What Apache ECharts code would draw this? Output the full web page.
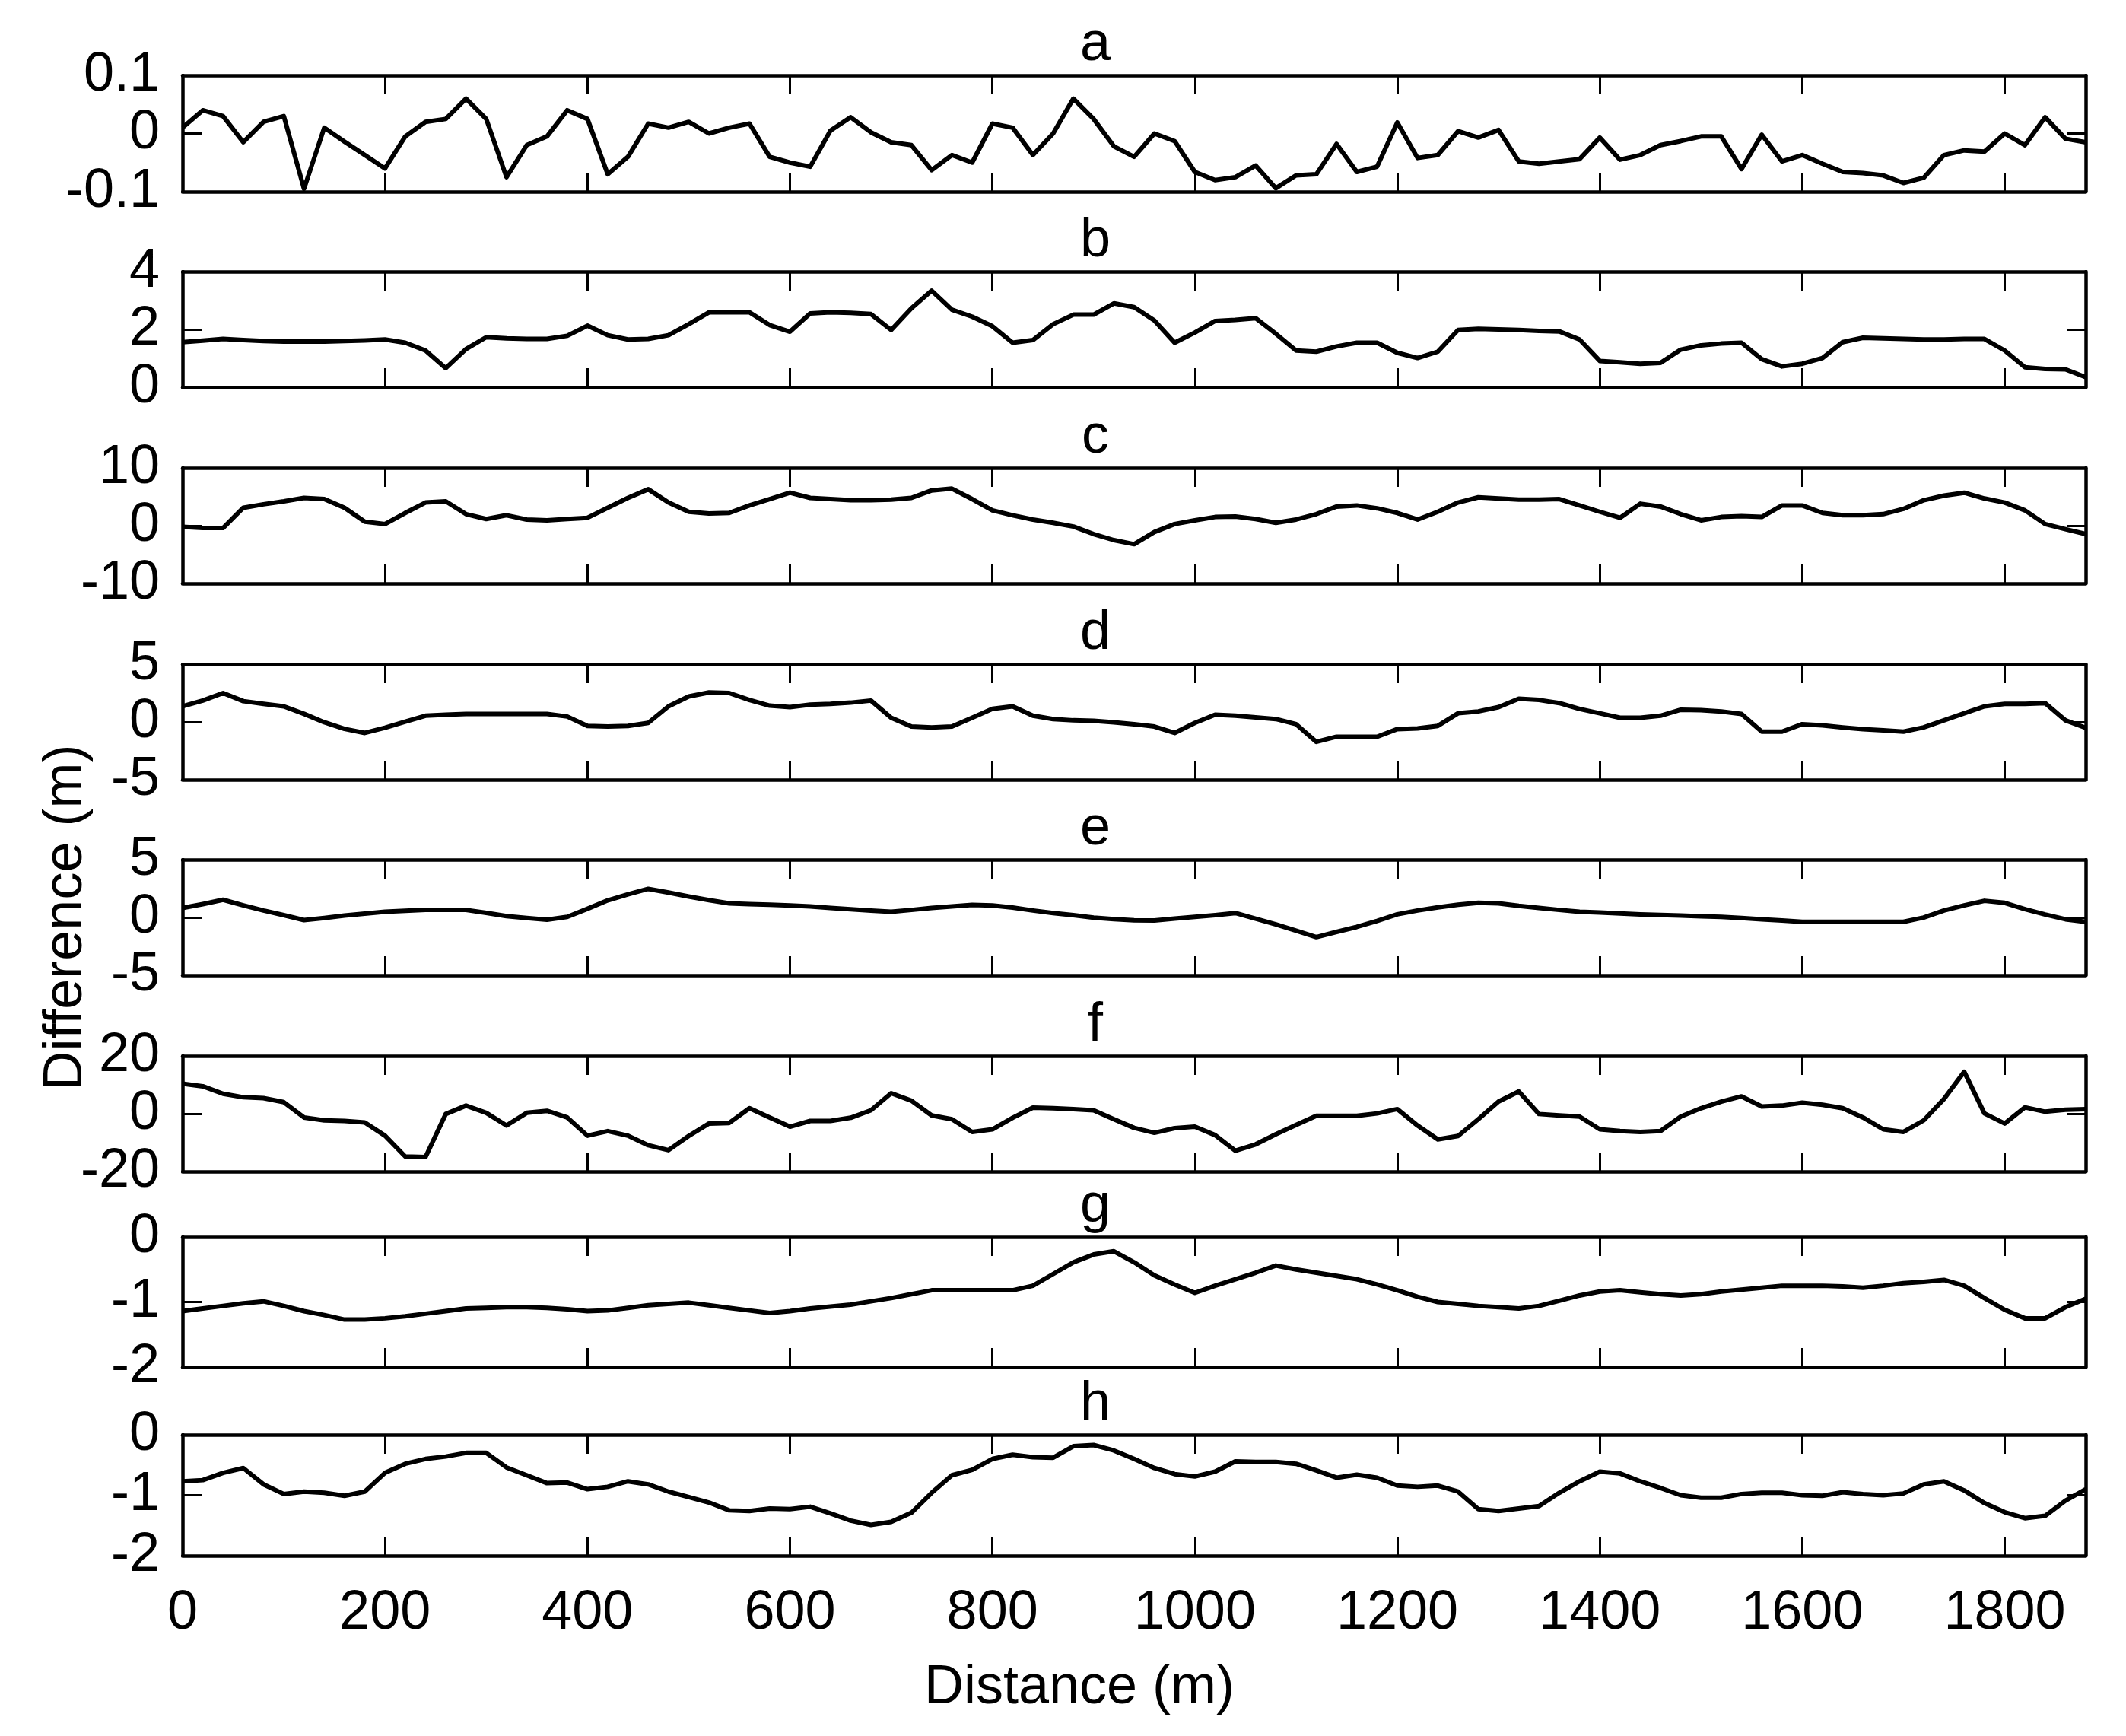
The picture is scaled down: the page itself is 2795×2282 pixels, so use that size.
<!DOCTYPE html>
<html><head><meta charset="utf-8">
<script src="https://cdn.jsdelivr.net/npm/echarts@6/dist/echarts.min.js"></script>
<style>html,body{margin:0;padding:0;background:#fff}#c{width:2795px;height:2282px}</style>
</head><body><div id="c"></div>
<script>
// ---------- DATA ----------
const distance = [
  0,20,40,60,80,100,120,140,160,180,
  200,220,240,260,280,300,320,340,360,380,
  400,420,440,460,480,500,520,540,560,580,
  600,620,640,660,680,700,720,740,760,780,
  800,820,840,860,880,900,920,940,960,980,
  1000,1020,1040,1060,1080,1100,1120,1140,1160,1180,
  1200,1220,1240,1260,1280,1300,1320,1340,1360,1380,
  1400,1420,1440,1460,1480,1500,1520,1540,1560,1580,
  1600,1620,1640,1660,1680,1700,1720,1740,1760,1780,
  1800,1820,1840,1860,1880];

const panelTitles = ['a','b','c','d','e','f','g','h'];

const diffA = [
  0.01,0.04,0.03,-0.015,0.02,0.03,-0.095,0.01,-0.014,-0.037,
  -0.06,-0.005,0.02,0.025,0.06,0.025,-0.075,-0.02,-0.005,0.04,
  0.025,-0.07,-0.04,0.017,0.01,0.02,0,0.01,0.017,-0.04,
  -0.05,-0.057,0.005,0.028,0.002,-0.015,-0.02,-0.063,-0.037,-0.05,
  0.017,0.01,-0.037,0,0.06,0.025,-0.022,-0.04,0,-0.013,
  -0.066,-0.08,-0.075,-0.055,-0.094,-0.072,-0.07,-0.018,-0.066,-0.057,
  0.019,-0.042,-0.037,0.004,-0.007,0.006,-0.048,-0.052,-0.048,-0.044,
  -0.007,-0.045,-0.037,-0.02,-0.013,-0.005,-0.005,-0.061,-0.002,-0.048,
  -0.037,-0.052,-0.066,-0.068,-0.072,-0.085,-0.076,-0.037,-0.029,-0.031,
  0,-0.02,0.028,-0.009,-0.015];

const diffB = [
  1.56,1.61,1.67,1.63,1.6,1.58,1.58,1.58,1.6,1.62,
  1.65,1.54,1.27,0.66,1.32,1.73,1.69,1.67,1.67,1.78,
  2.13,1.8,1.65,1.67,1.8,2.18,2.59,2.59,2.59,2.15,
  1.92,2.55,2.59,2.57,2.53,1.98,2.73,3.34,2.68,2.44,
  2.11,1.54,1.63,2.18,2.51,2.51,2.9,2.77,2.31,1.54,
  1.89,2.29,2.33,2.39,1.85,1.27,1.23,1.41,1.54,1.54,
  1.19,1.01,1.23,1.98,2.02,2.0,1.98,1.95,1.93,1.65,
  0.91,0.86,0.81,0.84,1.3,1.45,1.51,1.54,0.97,0.72,
  0.81,1.01,1.56,1.71,1.69,1.67,1.65,1.65,1.67,1.67,
  1.27,0.69,0.63,0.62,0.35];

const diffC = [
  -0.2,-0.4,-0.4,3.1,3.7,4.2,4.8,4.6,3.1,0.7,
  0.28,2.2,4.0,4.2,2.0,1.15,1.8,1.06,0.93,1.15,
  1.36,3.1,4.8,6.3,4.0,2.4,2.1,2.2,3.5,4.6,
  5.7,4.8,4.6,4.4,4.4,4.5,4.8,6.1,6.4,4.6,
  2.65,1.8,1.06,0.5,-0.15,-1.45,-2.5,-3.2,-1.1,0.28,
  0.93,1.5,1.58,1.15,0.5,1.06,2.0,3.3,3.5,3.0,
  2.2,1.06,2.4,4.0,4.9,4.7,4.5,4.5,4.6,3.5,
  2.4,1.36,3.8,3.3,2.0,0.93,1.5,1.66,1.5,3.5,
  3.5,2.2,1.8,1.8,2.0,2.9,4.4,5.2,5.7,4.7,
  4.0,2.65,0.28,-0.6,-1.45];

const diffD = [
  1.35,1.85,2.5,1.8,1.56,1.35,0.7,-0.03,-0.6,-0.95,
  -0.5,0.03,0.54,0.62,0.69,0.69,0.69,0.69,0.69,0.47,
  -0.34,-0.4,-0.34,-0.08,1.35,2.2,2.55,2.5,1.9,1.41,
  1.28,1.5,1.56,1.67,1.85,0.36,-0.4,-0.47,-0.4,0.36,
  1.13,1.35,0.54,0.25,0.14,0.1,-0.03,-0.19,-0.4,-0.95,
  -0.08,0.62,0.54,0.4,0.25,-0.19,-1.72,-1.28,-1.28,-1.28,
  -0.62,-0.56,-0.34,0.75,0.91,1.28,2.0,1.9,1.63,1.13,
  0.75,0.36,0.36,0.54,1.06,1.02,0.91,0.69,-0.84,-0.84,
  -0.19,-0.3,-0.47,-0.62,-0.73,-0.84,-0.47,0.14,0.75,1.35,
  1.56,1.56,1.63,0.14,-0.51];

const diffE = [
  0.82,1.15,1.53,1.05,0.6,0.2,-0.23,-0.05,0.16,0.33,
  0.49,0.57,0.65,0.65,0.65,0.4,0.12,-0.05,-0.2,0.05,
  0.75,1.48,2.0,2.47,2.15,1.81,1.5,1.22,1.15,1.1,
  1.04,0.95,0.82,0.7,0.6,0.49,0.65,0.82,0.95,1.09,
  1.04,0.85,0.6,0.38,0.2,-0.01,-0.15,-0.25,-0.27,-0.1,
  0.05,0.2,0.38,-0.1,-0.6,-1.15,-1.7,-1.25,-0.82,-0.3,
  0.27,0.6,0.87,1.1,1.26,1.22,1.0,0.82,0.65,0.49,
  0.43,0.35,0.27,0.22,0.16,0.1,0.05,-0.05,-0.16,-0.27,
  -0.38,-0.38,-0.38,-0.38,-0.38,-0.38,-0.01,0.6,1.04,1.44,
  1.26,0.71,0.25,-0.16,-0.38];

const diffF = [
  10.4,9.5,6.9,5.7,5.4,4.0,-1.3,-2.3,-2.5,-3.0,
  -7.6,-14.8,-15.0,-0.1,2.8,0.3,-4.1,0.3,1.0,-1.3,
  -7.6,-6.0,-7.6,-10.9,-12.6,-7.7,-3.4,-3.2,1.9,-1.3,
  -4.5,-2.5,-2.5,-1.4,1.2,7.1,4.5,-0.6,-1.9,-6.3,
  -5.4,-1.4,2.1,1.9,1.6,1.2,-1.9,-4.9,-6.6,-5.0,
  -4.5,-7.4,-12.8,-10.6,-7.1,-3.9,-0.7,-0.7,-0.7,0.1,
  1.6,-4.1,-8.9,-7.7,-1.9,4.2,7.7,-0.1,-0.6,-1.0,
  -5.4,-6.0,-6.3,-6.0,-1.0,1.9,4.2,6.0,2.5,2.8,
  3.8,3.1,1.9,-1.3,-5.4,-6.3,-2.3,5.1,14.5,0.1,
  -3.4,2.2,0.7,1.4,1.6];

const diffG = [
  -1.14,-1.1,-1.06,-1.02,-0.99,-1.06,-1.14,-1.2,-1.27,-1.27,
  -1.25,-1.22,-1.18,-1.14,-1.1,-1.09,-1.08,-1.08,-1.09,-1.11,
  -1.14,-1.13,-1.09,-1.05,-1.03,-1.01,-1.05,-1.09,-1.13,-1.17,
  -1.14,-1.1,-1.07,-1.04,-0.99,-0.94,-0.88,-0.82,-0.82,-0.82,
  -0.82,-0.82,-0.75,-0.57,-0.39,-0.27,-0.22,-0.39,-0.59,-0.73,
  -0.86,-0.75,-0.65,-0.55,-0.44,-0.5,-0.55,-0.6,-0.65,-0.73,
  -0.82,-0.92,-1.0,-1.03,-1.06,-1.08,-1.1,-1.06,-0.98,-0.9,
  -0.84,-0.82,-0.85,-0.88,-0.9,-0.88,-0.84,-0.81,-0.78,-0.75,
  -0.75,-0.75,-0.76,-0.78,-0.75,-0.71,-0.69,-0.66,-0.75,-0.94,
  -1.12,-1.25,-1.25,-1.08,-0.95];

const diffH = [
  -0.77,-0.75,-0.63,-0.55,-0.82,-0.98,-0.94,-0.96,-1.01,-0.94,
  -0.63,-0.48,-0.4,-0.36,-0.3,-0.3,-0.54,-0.67,-0.8,-0.79,
  -0.9,-0.86,-0.77,-0.82,-0.94,-1.03,-1.12,-1.25,-1.26,-1.22,
  -1.23,-1.19,-1.3,-1.42,-1.49,-1.44,-1.29,-0.96,-0.67,-0.58,
  -0.4,-0.33,-0.37,-0.38,-0.19,-0.17,-0.26,-0.4,-0.55,-0.65,
  -0.69,-0.61,-0.44,-0.45,-0.45,-0.48,-0.59,-0.71,-0.66,-0.71,
  -0.84,-0.86,-0.84,-0.94,-1.23,-1.26,-1.22,-1.18,-0.96,-0.77,
  -0.61,-0.64,-0.77,-0.88,-1.0,-1.04,-1.04,-0.98,-0.96,-0.96,
  -1.0,-1.01,-0.95,-0.98,-1.0,-0.97,-0.82,-0.77,-0.92,-1.13,
  -1.28,-1.38,-1.34,-1.09,-0.9];

const yMin  = [-0.1, 0, -10, -5, -5, -20, -2, -2];
const yMax  = [0.1, 4, 10, 5, 5, 20, 0, 0];
const yStep = [0.1, 2, 10, 5, 5, 20, 1, 1];
const xMin = 0, xMax = 1880, xStep = 200;
const xAxisTitle = 'Distance (m)';
const yAxisTitle = 'Difference (m)';

// ---------- LAYOUT ----------
const panels = [diffA, diffB, diffC, diffD, diffE, diffF, diffG, diffH];
const gridTops    = [99, 357, 615, 873, 1130, 1388, 1626, 1886];
const gridHeights = [153, 152, 152, 152, 152, 152, 171, 159];
const gridLeft = 240, gridWidth = 2502;
const FONT = '"Liberation Sans", Arial, Helvetica, sans-serif';
const FS = 72;
const INK = '#000';

const grid = [], xAxis = [], yAxis = [], series = [], graphic = [];
panels.forEach((vals, i) => {
  grid.push({left: gridLeft, top: gridTops[i], width: gridWidth, height: gridHeights[i], containLabel: false});
  const isLast = i === panels.length - 1;
  const tickCommon = {show: true, inside: true, length: 25, lineStyle: {color: INK, width: 3}};
  const lineCommon = {show: true, onZero: false, lineStyle: {color: INK, width: 4.5}};
  xAxis.push({
    type: 'value', gridIndex: i, position: 'bottom', min: xMin, max: xMax, interval: xStep,
    axisLine: lineCommon, axisTick: tickCommon, splitLine: {show: false},
    axisLabel: {
      show: isLast, color: INK, fontSize: FS, fontFamily: FONT, margin: 40,
      formatter: v => (v % xStep === 0 ? String(v) : '')
    }
  });
  xAxis.push({
    type: 'value', gridIndex: i, position: 'top', min: xMin, max: xMax, interval: xStep,
    axisLine: lineCommon, axisTick: tickCommon, splitLine: {show: false}, axisLabel: {show: false}
  });
  yAxis.push({
    type: 'value', gridIndex: i, position: 'left', min: yMin[i], max: yMax[i], interval: yStep[i],
    axisLine: lineCommon, axisTick: tickCommon, splitLine: {show: false},
    axisLabel: {show: true, color: INK, fontSize: FS, fontFamily: FONT, margin: 30}
  });
  yAxis.push({
    type: 'value', gridIndex: i, position: 'right', min: yMin[i], max: yMax[i], interval: yStep[i],
    axisLine: lineCommon, axisTick: tickCommon, splitLine: {show: false}, axisLabel: {show: false}
  });
  series.push({
    type: 'line', name: panelTitles[i], xAxisIndex: 2 * i, yAxisIndex: 2 * i,
    data: distance.map((d, k) => [d, vals[k]]),
    showSymbol: false, symbol: 'none', clip: false,
    lineStyle: {color: INK, width: 6, join: 'round'}, z: 3
  });
  graphic.push({
    type: 'text', x: 1440, y: gridTops[i] - 40,
    style: {text: panelTitles[i], fill: INK, font: FS + 'px ' + FONT, textAlign: 'center', textVerticalAlign: 'middle'}
  });
});

graphic.push({
  type: 'text', x: 1419, y: 2219,
  style: {text: xAxisTitle, fill: INK, font: FS + 'px ' + FONT, textAlign: 'center', textVerticalAlign: 'middle'}
});
graphic.push({
  type: 'text', x: 87, y: 1206, rotation: Math.PI / 2,
  style: {text: yAxisTitle, fill: INK, font: FS + 'px ' + FONT, textAlign: 'center', textVerticalAlign: 'middle'}
});

const chart = echarts.init(document.getElementById('c'), null, {renderer: 'canvas'});
chart.setOption({
  animation: false,
  backgroundColor: '#fff',
  grid, xAxis, yAxis, series, graphic
});
</script>
</body></html>
